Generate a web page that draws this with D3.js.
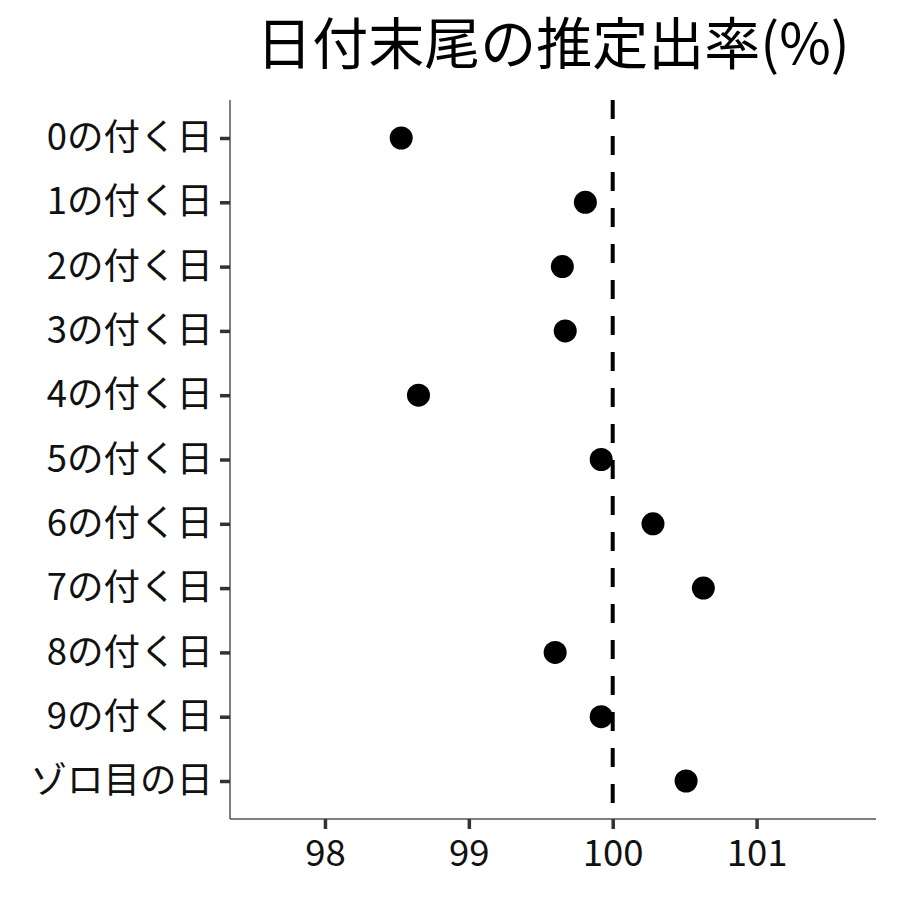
<!DOCTYPE html>
<html>
<head>
<meta charset="utf-8">
<script src="https://cdn.jsdelivr.net/npm/d3@7"></script>
<style>
	body { margin: 0; background: #fff; }
	svg text { font-family: "Noto Sans CJK JP", "Noto Sans CJK SC", sans-serif; }
</style>
</head>
<body>
<svg id="chart" width="900" height="900"></svg>
<script>
/* chart data */
var categories = ["0の付く日", "1の付く日", "2の付く日", "3の付く日", "4の付く日",
	"5の付く日", "6の付く日", "7の付く日", "8の付く日", "9の付く日", "ゾロ目の日"];
var rates = [98.53, 99.81, 99.65, 99.67, 98.65, 99.92, 100.28, 100.63, 99.60, 99.92, 100.51];
var xTicks = [98, 99, 100, 101];
var refValue = 100;
var title = "日付末尾の推定出率(%)";

var svg = d3.select("#chart");
var panelLeft = 230, panelRight = 876, panelTop = 100, panelBottom = 819;

var x = d3.scaleLinear().domain([97.34, 101.83]).range([panelLeft, panelRight]);
var y = d3.scalePoint().domain(categories).range([138, 781]);

// title
svg.append("text")
	.attr("x", (panelLeft + panelRight) / 2)
	.attr("y", 64)
	.attr("text-anchor", "middle")
	.style("font-size", "56px")
	.attr("fill", "#000")
	.text(title);

// x axis
var xAxis = svg.append("g")
	.attr("transform", "translate(0," + panelBottom + ")")
	.call(d3.axisBottom(x).tickValues(xTicks).tickSize(10).tickPadding(11).tickFormat(d3.format("d")));
xAxis.select(".domain").attr("stroke", "#555").attr("stroke-width", 1.5)
	.attr("d", "M" + panelLeft + ",0H" + panelRight);
xAxis.selectAll(".tick line").attr("stroke", "#333").attr("stroke-width", 3.5);
xAxis.selectAll(".tick text").style("font-size", "36.5px").attr("fill", "#111");

// y axis
var yAxis = svg.append("g")
	.attr("transform", "translate(" + panelLeft + ",0)")
	.call(d3.axisLeft(y).tickSize(10).tickPadding(7));
yAxis.select(".domain").attr("stroke", "#555").attr("stroke-width", 1.5)
	.attr("d", "M0," + panelTop + "V" + panelBottom);
yAxis.selectAll(".tick line").attr("stroke", "#333").attr("stroke-width", 3.5);
yAxis.selectAll(".tick text").style("font-size", "36.5px").attr("fill", "#111");

// reference line
svg.append("line")
	.attr("x1", x(refValue)).attr("x2", x(refValue))
	.attr("y1", panelTop).attr("y2", panelBottom)
	.attr("stroke", "#000")
	.attr("stroke-width", 4)
	.attr("stroke-dasharray", "19,17");

// points
svg.append("g").selectAll("circle")
	.data(rates)
	.enter().append("circle")
	.attr("cx", function(d) { return x(d); })
	.attr("cy", function(d, i) { return y(categories[i]); })
	.attr("r", 11.5)
	.attr("fill", "#000");
</script>
</body>
</html>
